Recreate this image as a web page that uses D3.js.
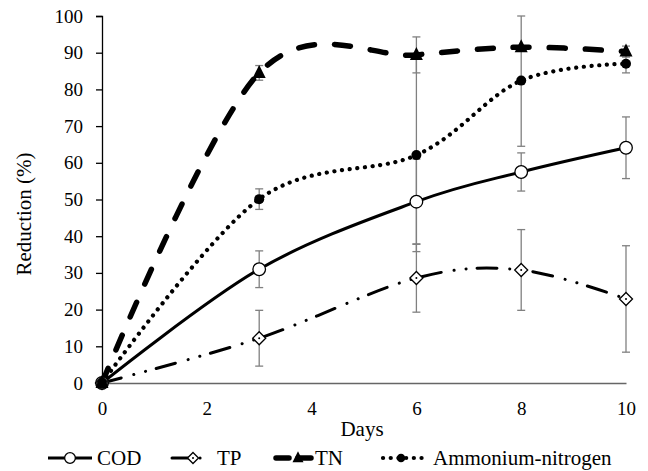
<!DOCTYPE html>
<html><head><meta charset="utf-8">
<script src="https://cdn.jsdelivr.net/npm/d3@7"></script>
<style>body{margin:0;background:#fff}svg{display:block}text{font-family:"Liberation Serif","Times New Roman",serif;fill:#000}</style>
</head><body><svg id="c" width="648" height="471"></svg>
<script>
const days = [0, 3, 6, 8, 10];
const cod = [0, 31, 49.4, 57.5, 64.1];
const codErr = [0, 5, 11.6, 5.2, 8.4];
const tp = [0, 12.2, 28.6, 30.8, 22.9];
const tpErr = [0, 7.6, 9.3, 11, 14.5];
const tn = [0, 84.5, 89.4, 91.5, 90.3];
const tnErr = [0, 2, 4.9, 27, 1.5];
const amm = [0, 50.1, 62.1, 82.4, 87];
const ammErr = [0, 2.8, 26.3, 0.5, 2.5];
const xTicks = [0, 2, 4, 6, 8, 10];
const yTicks = [0, 10, 20, 30, 40, 50, 60, 70, 80, 90, 100];
const seriesNames = ["COD", "TP", "TN", "Ammonium-nitrogen"];

const svg = d3.select("#c");
const x = d3.scaleLinear().domain([0, 10]).range([102, 626]);
const y = d3.scaleLinear().domain([0, 100]).range([383, 16]);
const FONT = '"Liberation Serif","Times New Roman",serif';

const styles = [
  {vals: cod, err: codErr, w: 3, dash: null, marker: "circle"},
  {vals: tp, err: tpErr, w: 3, dash: "20,13,0.1,12,0.1,11", marker: "diamond"},
  {vals: tn, err: tnErr, w: 5.5, dash: "16,20", marker: "triangle"},
  {vals: amm, err: ammErr, w: 4.2, dash: "0.1,7.6", marker: "dot"}
];

// axes
const yAxis = svg.append("g").attr("transform", "translate(102,0)")
  .call(d3.axisLeft(y).tickValues(yTicks).tickSize(6).tickPadding(13))
  .attr("font-family", FONT).attr("font-size", 19);
yAxis.select(".domain").attr("stroke", "#000").attr("stroke-width", 1.3);
yAxis.selectAll("line").attr("stroke", "#000").attr("stroke-width", 1.3);
yAxis.selectAll("text").attr("fill", "#000").style("font-family", FONT).style("font-size", "19px");

const xAxis = svg.append("g").attr("transform", "translate(0,383)")
  .call(d3.axisBottom(x).tickValues(xTicks).tickSize(0).tickPadding(18.5))
  .attr("font-family", FONT).attr("font-size", 19);
xAxis.select(".domain").attr("stroke", "#666").attr("stroke-width", 1.5);
xAxis.selectAll("text").attr("fill", "#000").style("font-family", FONT).style("font-size", "19px");

svg.append("text").attr("x", 362).attr("y", 436).attr("text-anchor", "middle")
  .style("font-size", "21px").text("Days");
svg.append("text").attr("transform", "translate(31,214) rotate(-90)").attr("text-anchor", "middle")
  .style("font-size", "21px").text("Reduction (%)");

// error bars
const eb = svg.append("g");
styles.forEach(s => {
  days.forEach((d, i) => {
    if (!s.err[i]) return;
    const lo = Math.max(0, s.vals[i] - s.err[i]), hi = Math.min(100, s.vals[i] + s.err[i]);
    const cx = x(d);
    eb.append("line").attr("x1", cx).attr("x2", cx).attr("y1", y(lo)).attr("y2", y(hi))
      .attr("stroke", "#808080").attr("stroke-width", 1.3);
    [lo, hi].forEach(v => eb.append("line").attr("x1", cx - 4).attr("x2", cx + 4)
      .attr("y1", y(v)).attr("y2", y(v)).attr("stroke", "#808080").attr("stroke-width", 1.3));
  });
});

const line = d3.line().x(d => x(d[0])).y(d => y(d[1])).curve(d3.curveCardinal.tension(0));
styles.forEach(s => {
  svg.append("path").datum(days.map((d, i) => [d, s.vals[i]]))
    .attr("d", line).attr("fill", "none").attr("stroke", "#000")
    .attr("stroke-width", s.w).attr("stroke-dasharray", s.dash)
    .attr("stroke-linecap", s.dash ? "round" : "butt");
});

function drawMarker(g, type, cx, cy, sc) {
  sc = sc || 1;
  if (type === "circle") {
    g.append("circle").attr("cx", cx).attr("cy", cy).attr("r", 6.3 * sc)
      .attr("fill", "#fff").attr("stroke", "#000").attr("stroke-width", 1.3);
  } else if (type === "diamond") {
    const r = 6.5 * sc;
    g.append("path").attr("d", `M${cx},${cy - r}L${cx + r},${cy}L${cx},${cy + r}L${cx - r},${cy}Z`)
      .attr("fill", "#fff").attr("stroke", "#000").attr("stroke-width", 1.3);
    g.append("circle").attr("cx", cx).attr("cy", cy).attr("r", 1).attr("fill", "#000");
  } else if (type === "triangle") {
    g.append("path").attr("d", `M${cx},${cy - 8 * sc}L${cx + 6.5 * sc},${cy + 5 * sc}L${cx - 6.5 * sc},${cy + 5 * sc}Z`)
      .attr("fill", "#000");
  } else {
    g.append("circle").attr("cx", cx).attr("cy", cy).attr("r", 5 * sc).attr("fill", "#000");
  }
}
const mk = svg.append("g");
styles.forEach(s => {
  days.forEach((d, i) => drawMarker(mk, s.marker, x(d), y(s.vals[i])));
});

// legend
const legY = 458;
const legItems = [
  {x1: 48, x2: 92, mx: 70, tx: 97},
  {x1: 172, x2: 212, mx: 193, tx: 217},
  {x1: 276, x2: 311, mx: 298, tx: 315},
  {x1: 383, x2: 422, mx: 401, tx: 433}
];
const lg = svg.append("g");
legItems.forEach((it, k) => {
  const s = styles[k];
  lg.append("line").attr("x1", it.x1).attr("x2", it.x2).attr("y1", legY).attr("y2", legY)
    .attr("stroke", "#000").attr("stroke-width", s.w)
    .attr("stroke-dasharray", k === 1 ? "18,10,0.1,12" : k === 2 ? "13,9" : s.dash)
    .attr("stroke-linecap", s.dash ? "round" : "butt");
  drawMarker(lg, s.marker, it.mx, legY, 0.85);
  lg.append("text").attr("x", it.tx).attr("y", legY + 7).style("font-size", "21px").text(seriesNames[k]);
});
</script></body></html>
